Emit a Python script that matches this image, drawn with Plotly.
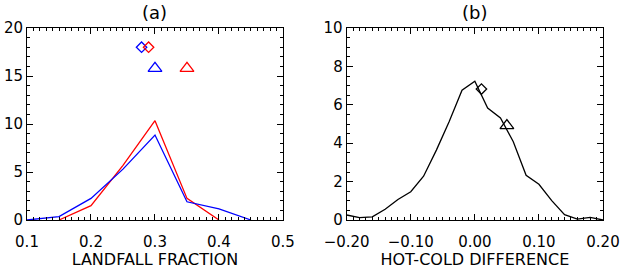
import plotly.graph_objects as go

# Panel (a): landfall fraction histograms
a_x_red = [0.15, 0.20, 0.25, 0.30, 0.35, 0.40]
a_y_red = [0.0, 1.5, 5.7, 10.35, 2.25, 0.0]
a_x_blue = [0.10, 0.15, 0.20, 0.25, 0.30, 0.35, 0.40, 0.45]
a_y_blue = [0.0, 0.35, 2.25, 5.3, 8.85, 1.9, 1.15, 0.0]
a_diamond_x = [0.279, 0.290]
a_diamond_y = [18.0, 18.0]
a_triangle_x = [0.30, 0.35]
a_triangle_y = [15.8, 15.8]
a_marker_colors = ["#0000ff", "#ff0000"]

# Panel (b): hot-cold difference distribution
b_x = [-0.20, -0.18, -0.16, -0.14, -0.12, -0.10, -0.08, -0.06, -0.04, -0.02,
       0.00, 0.02, 0.04, 0.06, 0.08, 0.10, 0.12, 0.14, 0.16, 0.18, 0.20]
b_y = [0.26, 0.12, 0.16, 0.56, 1.07, 1.47, 2.28, 3.64, 5.13, 6.76,
       7.23, 5.83, 5.31, 4.08, 2.33, 1.86, 1.01, 0.28, 0.05, 0.14, 0.0]
b_diamond = (0.0103, 6.82)
b_triangle = (0.05, 4.92)

FONT = "DejaVu Sans"
RED = "#ff0000"
BLUE = "#0000ff"

fig = go.Figure()

fig.add_trace(go.Scatter(x=a_x_red, y=a_y_red, mode="lines",
                         line=dict(color=RED, width=1.3), xaxis="x", yaxis="y"))
fig.add_trace(go.Scatter(x=a_x_blue, y=a_y_blue, mode="lines",
                         line=dict(color=BLUE, width=1.3), xaxis="x", yaxis="y"))
fig.add_trace(go.Scatter(x=a_diamond_x, y=a_diamond_y, mode="markers",
                         marker=dict(symbol="diamond-open", size=8, color=a_marker_colors,
                                     line=dict(width=1.3, color=a_marker_colors)),
                         xaxis="x", yaxis="y"))
fig.add_trace(go.Scatter(x=a_triangle_x, y=a_triangle_y, mode="markers",
                         marker=dict(symbol="triangle-up-open", size=12, color=a_marker_colors,
                                     line=dict(width=1.3, color=a_marker_colors)),
                         xaxis="x", yaxis="y"))

fig.add_trace(go.Scatter(x=b_x, y=b_y, mode="lines",
                         line=dict(color="black", width=1.3), xaxis="x2", yaxis="y2"))
fig.add_trace(go.Scatter(x=[b_diamond[0]], y=[b_diamond[1]], mode="markers",
                         marker=dict(symbol="diamond-open", size=8, color="black",
                                     line=dict(width=1.3, color="black")),
                         xaxis="x2", yaxis="y2"))
fig.add_trace(go.Scatter(x=[b_triangle[0]], y=[b_triangle[1]], mode="markers",
                         marker=dict(symbol="triangle-up-open", size=12, color="black",
                                     line=dict(width=1.3, color="black")),
                         xaxis="x2", yaxis="y2"))

def axis_common(dtick, minor_dtick, fmt, standoff):
    return dict(
        showline=True, linecolor="black", linewidth=1, mirror="allticks",
        ticks="inside", ticklen=6, tickwidth=1, tickcolor="black",
        dtick=dtick, tickformat=fmt, showgrid=False, zeroline=False,
        minor=dict(ticks="inside", ticklen=3, tickwidth=1, tickcolor="black",
                   dtick=minor_dtick, showgrid=False),
        tickfont=dict(family=FONT, size=15, color="black"),
        ticklabelstandoff=standoff,
        automargin=False,
    )

W, H = 621, 269
ml, mr, mt, mb = 27, 18, 28, 49

fig.update_layout(
    width=W, height=H,
    margin=dict(l=ml, r=mr, t=mt, b=mb),
    paper_bgcolor="white", plot_bgcolor="white",
    showlegend=False,
    font=dict(family=FONT, color="black"),
    xaxis=dict(domain=[0, 0.4444], range=[0.1, 0.5], tick0=0.1,
               title=dict(text="LANDFALL FRACTION", font=dict(family=FONT, size=16), standoff=8),
               **axis_common(0.1, 0.01, ".1f", 8)),
    yaxis=dict(domain=[0, 1], range=[0, 20], tick0=0, anchor="x",
               **axis_common(5, 1, "d", 0)),
    xaxis2=dict(domain=[0.555, 1], range=[-0.2, 0.2], tick0=-0.2, anchor="y2",
                title=dict(text="HOT-COLD DIFFERENCE", font=dict(family=FONT, size=16), standoff=8),
                **axis_common(0.1, 0.01, ".2f", 8)),
    yaxis2=dict(domain=[0, 1], range=[0, 10], tick0=0, anchor="x2",
                **axis_common(2, 0.5, "d", 0)),
    annotations=[
        dict(text="(a)", xref="x domain", yref="paper", x=0.5, y=1, yshift=3,
             xanchor="center", yanchor="bottom", showarrow=False,
             font=dict(family=FONT, size=18, color="black")),
        dict(text="(b)", xref="x2 domain", yref="paper", x=0.5, y=1, yshift=3,
             xanchor="center", yanchor="bottom", showarrow=False,
             font=dict(family=FONT, size=18, color="black")),
    ],
)

fig.write_html("out.html", config={"displayModeBar": False},
               post_script="document.body.style.margin='0';")
